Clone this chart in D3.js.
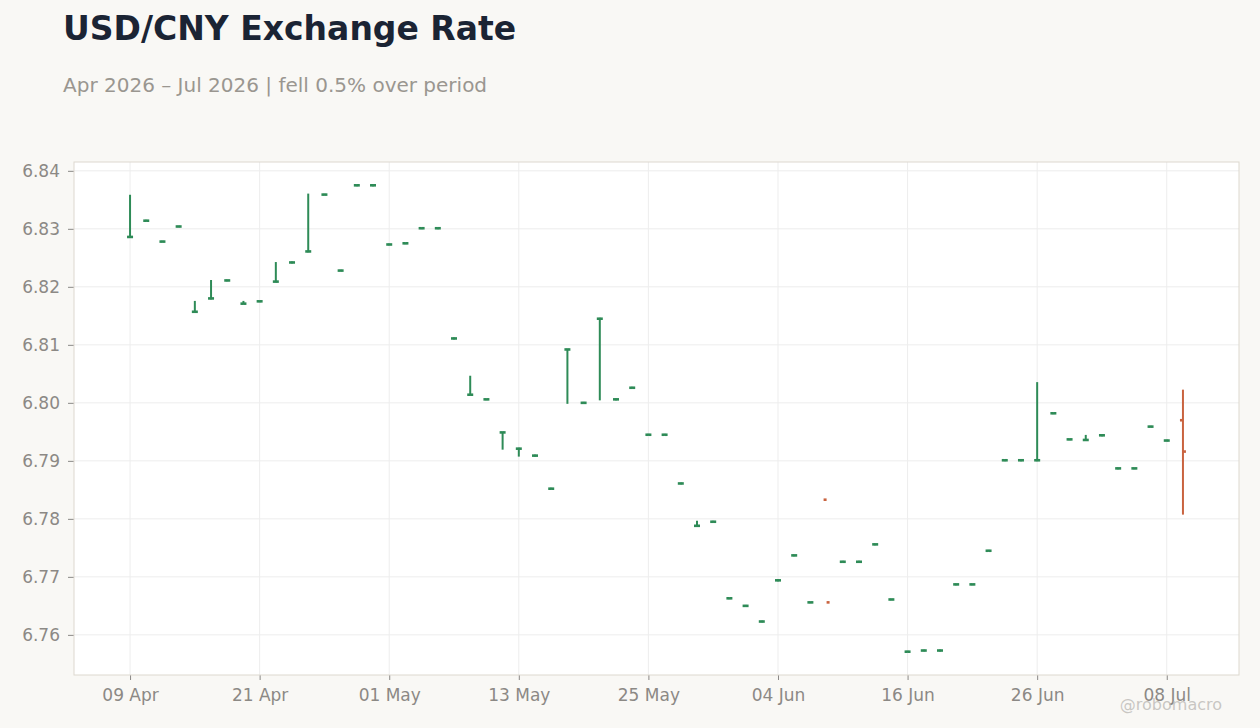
<!DOCTYPE html>
<html>
<head>
<meta charset="utf-8">
<script src="https://cdn.jsdelivr.net/npm/d3@7"></script>
<style>
  html, body { margin: 0; padding: 0; background: #f9f8f5; }
  svg { display: block; font-family: "DejaVu Sans", sans-serif; }
</style>
</head>
<body>
<div id="chart"></div>
<script>
// Business days, 09 Apr 2026 - 09 Jul 2026
const dates = [
  "2026-04-09", "2026-04-10", "2026-04-13", "2026-04-14", "2026-04-15", "2026-04-16", "2026-04-17",
  "2026-04-20", "2026-04-21", "2026-04-22", "2026-04-23", "2026-04-24", "2026-04-27", "2026-04-28",
  "2026-04-29", "2026-04-30", "2026-05-01", "2026-05-04", "2026-05-05", "2026-05-06", "2026-05-07",
  "2026-05-08", "2026-05-11", "2026-05-12", "2026-05-13", "2026-05-14", "2026-05-15", "2026-05-18",
  "2026-05-19", "2026-05-20", "2026-05-21", "2026-05-22", "2026-05-25", "2026-05-26", "2026-05-27",
  "2026-05-28", "2026-05-29", "2026-06-01", "2026-06-02", "2026-06-03", "2026-06-04", "2026-06-05",
  "2026-06-08", "2026-06-09", "2026-06-10", "2026-06-11", "2026-06-12", "2026-06-15", "2026-06-16",
  "2026-06-17", "2026-06-18", "2026-06-19", "2026-06-22", "2026-06-23", "2026-06-24", "2026-06-25",
  "2026-06-26", "2026-06-29", "2026-06-30", "2026-07-01", "2026-07-02", "2026-07-03", "2026-07-06",
  "2026-07-07", "2026-07-08", "2026-07-09"
];

const opens = [
  6.8286, 6.8314, 6.8278, 6.8304, 6.8157, 6.8180, 6.8211, 6.8171, 6.8175, 6.8209, 6.8242,
  6.8261, 6.8359, 6.8228, 6.8375, 6.8375, 6.8273, 6.8275, 6.8301, 6.8301, 6.8111, 6.8014,
  6.8006, 6.7949, 6.7921, 6.7909, 6.7852, 6.8092, 6.8000, 6.8145, 6.8006, 6.8026, 6.7945,
  6.7945, 6.7861, 6.7788, 6.7795, 6.7663, 6.7650, 6.7623, 6.7694, 6.7737, 6.7656, 6.7833,
  6.7726, 6.7726, 6.7756, 6.7661, 6.7571, 6.7573, 6.7573, 6.7687, 6.7687, 6.7745, 6.7901,
  6.7901, 6.7901, 6.7982, 6.7937, 6.7936, 6.7944, 6.7887, 6.7887, 6.7959, 6.7935, 6.7970
];

const highs = [
  6.8357, 6.8314, 6.8278, 6.8304, 6.8174, 6.8210, 6.8211, 6.8174, 6.8175, 6.8241, 6.8242,
  6.8359, 6.8359, 6.8228, 6.8375, 6.8375, 6.8273, 6.8275, 6.8301, 6.8301, 6.8111, 6.8045,
  6.8006, 6.7949, 6.7921, 6.7909, 6.7852, 6.8092, 6.8000, 6.8145, 6.8006, 6.8026, 6.7945,
  6.7945, 6.7861, 6.7795, 6.7795, 6.7663, 6.7650, 6.7623, 6.7694, 6.7737, 6.7656, null,
  6.7726, 6.7726, 6.7756, 6.7661, 6.7571, 6.7573, 6.7573, 6.7687, 6.7687, 6.7745, 6.7901,
  6.7901, 6.8034, 6.7982, 6.7937, 6.7943, 6.7944, 6.7887, 6.7887, 6.7959, 6.7935, 6.8021
];

const lows = [
  6.8286, 6.8314, 6.8278, 6.8304, 6.8157, 6.8180, 6.8211, 6.8171, 6.8175, 6.8209, 6.8242,
  6.8261, 6.8359, 6.8228, 6.8375, 6.8375, 6.8273, 6.8275, 6.8301, 6.8301, 6.8111, 6.8014,
  6.8006, 6.7921, 6.7909, 6.7909, 6.7852, 6.8000, 6.8000, 6.8006, 6.8006, 6.8026, 6.7945,
  6.7945, 6.7861, 6.7788, 6.7795, 6.7663, 6.7650, 6.7623, 6.7694, 6.7737, 6.7656, null,
  6.7726, 6.7726, 6.7756, 6.7661, 6.7571, 6.7573, 6.7573, 6.7687, 6.7687, 6.7745, 6.7901,
  6.7901, 6.7901, 6.7982, 6.7937, 6.7936, 6.7944, 6.7887, 6.7887, 6.7959, 6.7935, 6.7809
];

const closes = [
  6.8286, 6.8314, 6.8278, 6.8304, 6.8157, 6.8180, 6.8211, 6.8171, 6.8175, 6.8209, 6.8242,
  6.8261, 6.8359, 6.8228, 6.8375, 6.8375, 6.8273, 6.8275, 6.8301, 6.8301, 6.8111, 6.8014,
  6.8006, 6.7949, 6.7921, 6.7909, 6.7852, 6.8092, 6.8000, 6.8145, 6.8006, 6.8026, 6.7945,
  6.7945, 6.7861, 6.7788, 6.7795, 6.7663, 6.7650, 6.7623, 6.7694, 6.7737, 6.7656, 6.7656,
  6.7726, 6.7726, 6.7756, 6.7661, 6.7571, 6.7573, 6.7573, 6.7687, 6.7687, 6.7745, 6.7901,
  6.7901, 6.7901, 6.7982, 6.7937, 6.7936, 6.7944, 6.7887, 6.7887, 6.7959, 6.7935, 6.7916
];

const yTicks = [6.76, 6.77, 6.78, 6.79, 6.80, 6.81, 6.82, 6.83, 6.84];
const xTickEvery = 8;

const title = "USD/CNY Exchange Rate";
const subtitle = "Apr 2026 \u2013 Jul 2026 | fell 0.5% over period";
const watermark = "@robomacro";

const upColor = "#2e8b57";
const downColor = "#c9633f";

const W = 1260, H = 728;
const margin = { top: 162, right: 21, bottom: 53, left: 74 };
const width = W - margin.left - margin.right;
const height = H - margin.top - margin.bottom;

const parse = d3.timeParse("%Y-%m-%d");
const fmt = d3.timeFormat("%d %b");

const bars = dates.map((d, i) => ({
  i, date: parse(d), o: opens[i], h: highs[i], l: lows[i], c: closes[i]
}));

const svg = d3.select("#chart").append("svg")
  .attr("width", W)
  .attr("height", H);

svg.append("rect").attr("width", W).attr("height", H).attr("fill", "#f9f8f5");

// Title
svg.append("text")
  .attr("x", 63)
  .attr("y", 40)
  .attr("font-size", "33px")
  .attr("font-weight", "bold")
  .attr("fill", "#1b2434")
  .text(title);

svg.append("text")
  .attr("x", 63)
  .attr("y", 92)
  .attr("font-size", "20px")
  .attr("fill", "#9a9690")
  .text(subtitle);

const g = svg.append("g")
  .attr("transform", `translate(${margin.left},${margin.top})`);

// Scales
const lo = d3.min(lows), hi = d3.max(highs);
const yPad = (hi - lo) * 0.05;
const yScale = d3.scaleLinear().domain([lo - yPad, hi + yPad]).range([height, 0]);

const xPad = 3.46;
const xScale = d3.scaleLinear().domain([-xPad, bars.length - 1 + xPad]).range([0, width]);

const xTickIdx = d3.range(0, bars.length, xTickEvery);

g.append("rect")
  .attr("width", width)
  .attr("height", height)
  .attr("fill", "#ffffff");

// Grid
g.append("g")
  .selectAll("line")
  .data(yTicks)
  .enter()
  .append("line")
  .attr("x1", 0)
  .attr("x2", width)
  .attr("y1", (d) => yScale(d))
  .attr("y2", (d) => yScale(d))
  .attr("stroke", "#ededed")
  .attr("stroke-width", 1);

g.append("g")
  .selectAll("line")
  .data(xTickIdx)
  .enter()
  .append("line")
  .attr("x1", (d) => xScale(d))
  .attr("x2", (d) => xScale(d))
  .attr("y1", 0)
  .attr("y2", height)
  .attr("stroke", "#ededed")
  .attr("stroke-width", 1);

// Axes
const yAxis = g.append("g")
  .call(d3.axisLeft(yScale).tickValues(yTicks).tickFormat(d3.format(".2f")).tickSize(6).tickPadding(8));

const xAxis = g.append("g")
  .attr("transform", `translate(0,${height})`)
  .call(d3.axisBottom(xScale).tickValues(xTickIdx).tickFormat((i) => fmt(bars[i].date)).tickSize(5).tickPadding(9));

[yAxis, xAxis].forEach((ax) => {
  ax.select(".domain").remove();
  ax.selectAll(".tick line").attr("stroke", "#8a8886");
  ax.selectAll(".tick text")
    .attr("fill", "#8c8985")
    .attr("font-size", "17px")
    .attr("font-family", "DejaVu Sans, sans-serif");
});

// OHLC bars
const tickW = 3;
const ohlc = g.selectAll(".bar")
  .data(bars)
  .enter()
  .append("g")
  .attr("class", "bar")
  .attr("stroke", (d) => (d.c >= d.o ? upColor : downColor));

ohlc.filter((d) => d.h != null && d.l != null)
  .append("line")
  .attr("stroke-width", 2)
  .attr("x1", (d) => xScale(d.i))
  .attr("x2", (d) => xScale(d.i))
  .attr("y1", (d) => yScale(d.h) - 1)
  .attr("y2", (d) => yScale(d.l) + 1);

ohlc.append("line")
  .attr("stroke-width", 2.6)
  .attr("x1", (d) => xScale(d.i) - tickW)
  .attr("x2", (d) => xScale(d.i))
  .attr("y1", (d) => yScale(d.o))
  .attr("y2", (d) => yScale(d.o));

ohlc.append("line")
  .attr("stroke-width", 2.6)
  .attr("x1", (d) => xScale(d.i))
  .attr("x2", (d) => xScale(d.i) + tickW)
  .attr("y1", (d) => yScale(d.c))
  .attr("y2", (d) => yScale(d.c));

// Plot frame
g.append("rect")
  .attr("width", width)
  .attr("height", height)
  .attr("fill", "none")
  .attr("stroke", "#ddd8cf")
  .attr("stroke-width", 1);

// Watermark
svg.append("text")
  .attr("x", 1222)
  .attr("y", 710)
  .attr("text-anchor", "end")
  .attr("font-size", "16px")
  .attr("fill", "#b8b6b2")
  .attr("fill-opacity", 0.75)
  .text(watermark);
</script>
</body>
</html>
